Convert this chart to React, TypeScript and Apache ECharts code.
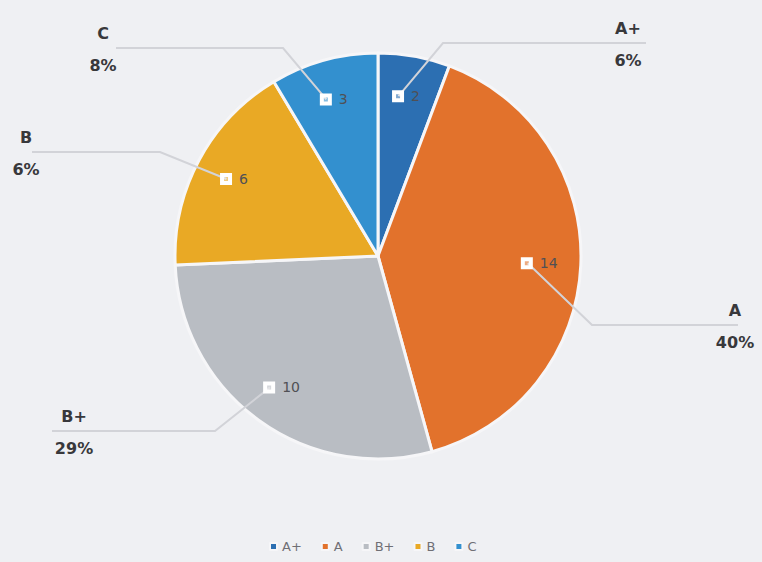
import React, { useEffect, useRef } from "react";
import * as echarts from "echarts";

const categories = ["A+", "A", "B+", "B", "C"];
const values = [2, 14, 10, 6, 3];
const pctLabels = ["6%", "40%", "29%", "6%", "8%"];
const colors = ["#2c6fb2", "#e2722c", "#b9bdc3", "#e9a925", "#3390cf"];

// layout (pixels)
const CX = 378;
const CY = 256;
const R = 203;
const INNER_R = 0.8 * R;
// outer label placement: [labelCenterX, lineY, bendX, lineEndX]
const outerPlace = [
  [628, 43, 443, 646],
  [735, 325, 592, 738],
  [74, 431, 215, 52],
  [26, 152, 160, 32],
  [103, 48, 283, 116],
];

function midPoint(i: number) {
  const total = values.reduce((a, b) => a + b, 0);
  let start = 0;
  for (let k = 0; k < i; k++) start += values[k];
  const mid = ((start + values[i] / 2) / total) * Math.PI * 2;
  return [CX + INNER_R * Math.sin(mid), CY - INNER_R * Math.cos(mid)];
}

function boxPoint(i: number) {
  const [mx, my] = midPoint(i);
  const w = 11 + 9 + 8 * String(values[i]).length;
  return [mx - w / 2 + 5.5, my];
}

export default function App() {
  const ref = useRef<HTMLDivElement>(null);
  useEffect(() => {
    if (!ref.current) return;
    const chart = echarts.init(ref.current, null, { renderer: "svg" });
    const data = categories.map((name, i) => ({
      name,
      value: values[i],
      itemStyle: { color: colors[i] },
    }));
    const font = "DejaVu Sans";
    chart.setOption({
      animation: false,
      backgroundColor: "#eff0f3",
      legend: {
        data: categories,
        bottom: 4,
        left: 264,
        itemWidth: 7,
        itemHeight: 7,
        itemGap: 19,
        icon: "rect",
        textStyle: { color: "#6f6f75", fontSize: 13, fontFamily: font },
      },
      series: [
        {
          type: "pie",
          z: 1,
          center: [CX, CY],
          radius: R,
          startAngle: 90,
          clockwise: true,
          data,
          itemStyle: { borderColor: "#f6f6f8", borderWidth: 3 },
          label: { show: false },
          labelLine: { show: false },
          emphasis: { disabled: true },
        },
        {
          type: "pie",
          z: 5,
          center: [CX, CY],
          radius: R,
          startAngle: 90,
          clockwise: true,
          silent: true,
          data: categories.map((name, i) => ({
            name,
            value: values[i],
            itemStyle: { color: "rgba(0,0,0,0)", borderWidth: 0 },
          })),
          label: {
            show: true,
            position: "outside",
            formatter: (p: any) => `{n|${p.name}}\n{p|${pctLabels[p.dataIndex]}}`,
            rich: {
              n: { fontSize: 16, fontWeight: "bold", color: "#38383b", lineHeight: 32, fontFamily: font },
              p: { fontSize: 16, fontWeight: "bold", color: "#38383b", lineHeight: 32, fontFamily: font },
            },
          },
          labelLine: { show: true, lineStyle: { color: "#d2d3d8", width: 2 } },
          labelLayout: (params: any) => {
            const i = params.dataIndex;
            const [lx, ly, bx, ex] = outerPlace[i];
            const [sx, sy] = boxPoint(i);
            return {
              x: lx,
              y: ly + 1,
              align: "center",
              verticalAlign: "middle",
              labelLinePoints: [
                [sx, sy],
                [bx, ly],
                [ex, ly],
              ],
            };
          },
          emphasis: { disabled: true },
        },
        {
          type: "pie",
          z: 8,
          center: [CX, CY],
          radius: R,
          startAngle: 90,
          clockwise: true,
          silent: true,
          data: categories.map((name, i) => ({
            name,
            value: values[i],
            itemStyle: { color: "rgba(0,0,0,0)", borderWidth: 0 },
          })),
          label: {
            show: true,
            position: "inside",
            formatter: "{box|}{v|{c}}",
            rich: {
              box: {
                width: 8,
                height: 8,
                borderColor: "#ffffff",
                borderWidth: 2,
                backgroundColor: "rgba(255,255,255,0.4)",
              },
              v: { fontSize: 14, color: "#505055", padding: [0, 0, 0, 9], fontFamily: font },
            },
          },
          labelLine: { show: false },
          labelLayout: (params: any) => {
            const [mx, my] = midPoint(params.dataIndex);
            return { x: mx, y: my, align: "center", verticalAlign: "middle" };
          },
          emphasis: { disabled: true },
        },
      ],
    });
    return () => chart.dispose();
  }, []);
  return (
    <div
      ref={ref}
      style={{ position: "fixed", left: 0, top: 0, width: 762, height: 562 }}
    />
  );
}
